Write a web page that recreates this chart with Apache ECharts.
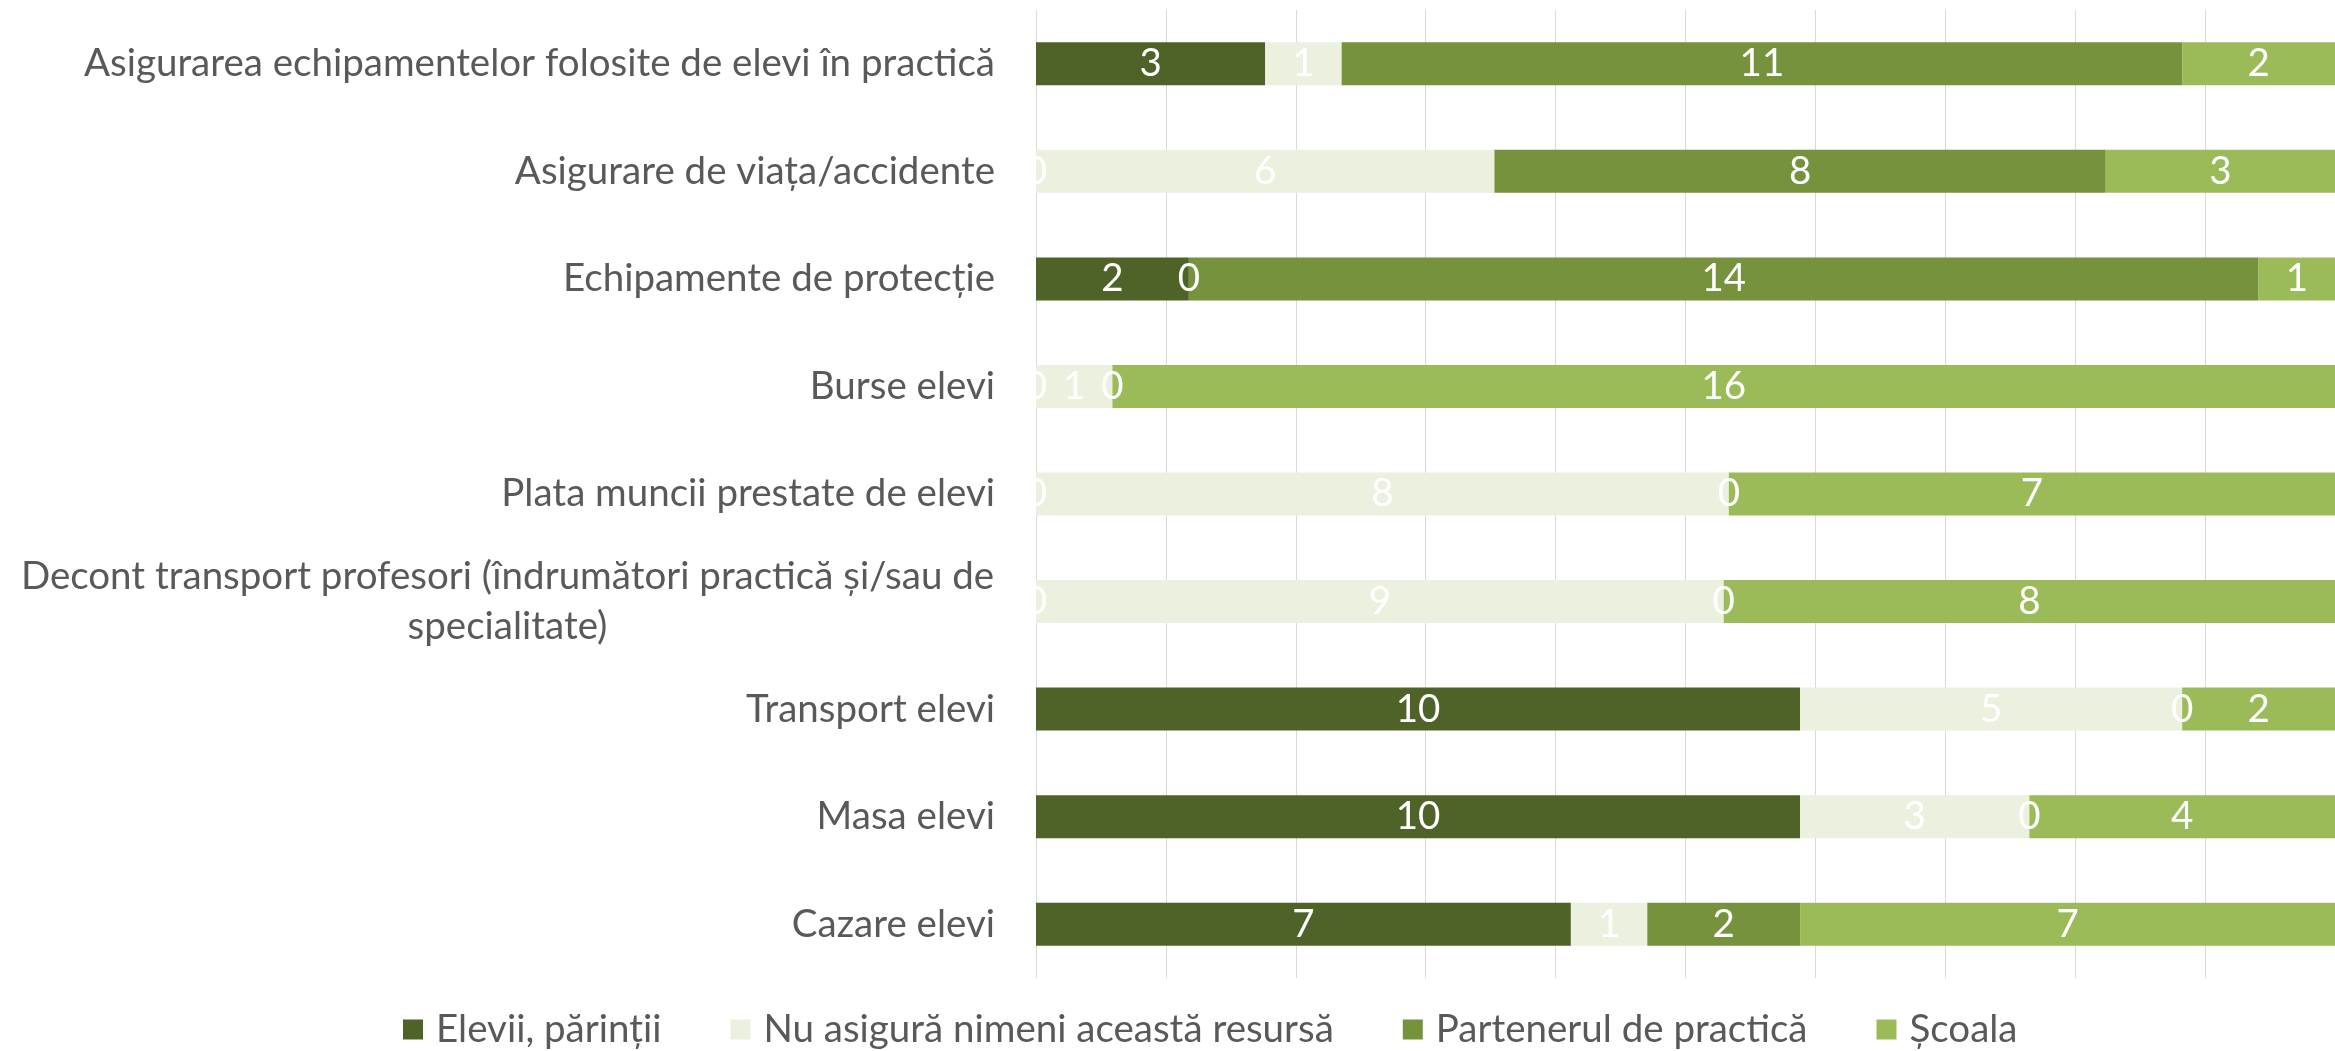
<!DOCTYPE html>
<html>
<head>
<meta charset="utf-8">
<script src="https://cdn.jsdelivr.net/npm/echarts@6/dist/echarts.min.js"></script>
<style>
html,body{margin:0;padding:0;background:#fff;}
#chart{width:2335px;height:1051px;}
</style>
</head>
<body>
<div id="chart"></div>
<script>
const categories = [
  "Asigurarea echipamentelor folosite de elevi în practică",
  "Asigurare de viața/accidente",
  "Echipamente de protecție",
  "Burse elevi",
  "Plata muncii prestate de elevi",
  "Decont transport profesori (îndrumători practică și/sau de specialitate)",
  "Transport elevi",
  "Masa elevi",
  "Cazare elevi"
];
const seriesNames = ["Elevii, părinții", "Nu asigură nimeni această resursă", "Partenerul de practică", "Școala"];
const elevii     = [3, 0, 2, 0, 0, 0, 10, 10, 7];
const nimeni     = [1, 6, 0, 1, 8, 9, 5, 3, 1];
const partenerul = [11, 8, 14, 0, 0, 0, 0, 0, 2];
const scoala     = [2, 3, 1, 16, 7, 8, 2, 4, 7];
const colors = ["#4F6228", "#EBF1DE", "#76923C", "#9BBB59"];

const FONT = "Lato, 'Open Sans', sans-serif";
const FS = 38.5;
const counts = [elevii, nimeni, partenerul, scoala];
const totals = categories.map((c, i) => counts.reduce((s, arr) => s + arr[i], 0));

const chart = echarts.init(document.getElementById('chart'), null, {renderer: 'canvas'});
chart.setOption({
  animation: false,
  backgroundColor: '#ffffff',
  color: colors,
  grid: {left: 1036, top: 10, width: 1328, height: 968, containLabel: false},
  legend: {
    left: 398, top: 1005,
    itemWidth: 20, itemHeight: 20, itemGap: 69,
    icon: 'rect',
    textStyle: {fontFamily: FONT, fontSize: FS, color: '#595959', padding: [0, 0, 0, 8]},
    data: seriesNames
  },
  xAxis: {
    type: 'value', min: 0, max: 100, interval: 10,
    axisLabel: {show: false}, axisLine: {show: false}, axisTick: {show: false},
    splitLine: {show: true, lineStyle: {color: '#D9D9D9', width: 1}}
  },
  yAxis: {
    type: 'category', data: categories, inverse: true,
    axisLine: {show: false}, axisTick: {show: false},
    axisLabel: {
      margin: 41, fontFamily: FONT, fontSize: FS, color: '#595959', lineHeight: 50,
      formatter: function (v) {
        if (v.indexOf('Decont') === 0) {
          return '{w|Decont transport profesori (îndrumători practică și/sau de}\n{w|specialitate)}';
        }
        return v;
      },
      rich: {w: {width: 975, align: 'center', fontFamily: FONT, fontSize: FS, color: '#595959', lineHeight: 50}}
    }
  },
  series: counts.map((arr, si) => ({
    name: seriesNames[si], type: 'bar', stack: 'total', barWidth: 43,
    itemStyle: {color: colors[si]},
    label: {
      show: true, position: 'inside', color: '#ffffff', fontFamily: FONT, fontSize: FS,
      formatter: p => String(arr[p.dataIndex])
    },
    data: arr.map((v, i) => v / totals[i] * 100)
  }))
});
</script>
</body>
</html>
